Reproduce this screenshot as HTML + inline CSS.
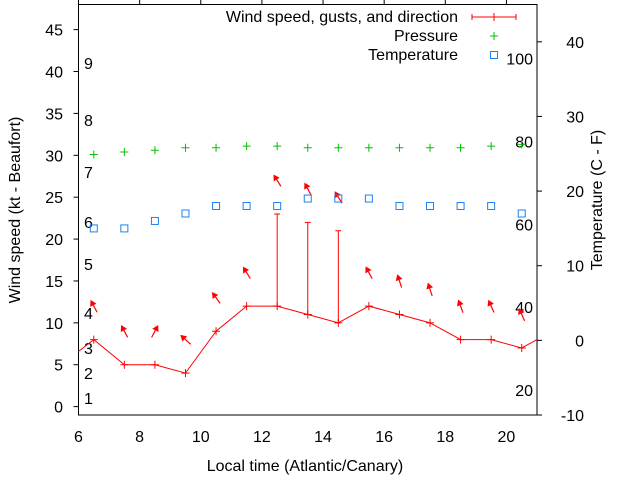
<!DOCTYPE html>
<html><head><meta charset="utf-8"><style>
html,body{margin:0;padding:0;background:#fff}
svg{display:block;font-family:"Liberation Sans",sans-serif}
</style></head><body>
<svg id="chart" width="640" height="480" viewBox="0 0 640 480" xmlns="http://www.w3.org/2000/svg"></svg>
<script>
const hours=[6.5,7.5,8.5,9.5,10.5,11.5,12.5,13.5,14.5,15.5,16.5,17.5,18.5,19.5,20.5];
const windKt=[8,5,5,4,9,12,12,11,10,12,11,10,8,8,7];
const windEdgeBefore=[5.5,5.2];
const windEdgeAfter=[21.5,9];
const gustKt=[null,null,null,null,null,null,23,22,21,null,null,null,null,null,null];
const windDirDeg=[332,332,28,312,324,328,328,332,328,332,342,342,340,336,336];
const pressure=[30.1,30.4,30.6,30.9,30.9,31.1,31.1,30.9,30.9,30.9,30.9,30.9,30.9,31.1,31.3];
const tempC=[15,15,16,17,18,18,18,19,19,19,18,18,18,18,17];
const xTicks=[6,8,10,12,14,16,18,20,22];
const yTicks=[0,5,10,15,20,25,30,35,40,45];
const y2Ticks=[-10,0,10,20,30,40];
const fahrenheitLabels=[20,40,60,80,100];
const beaufortLabels=[["1",398],["2",373],["3",348],["4",313],["5",264],["6",222],["7",172],["8",120],["9",63]];

const L=78.5,R=537,T=4.5,B=415;
const FS=16;
const X=h=>L+(h-6)/(21-6)*(R-L);
const Y=k=>B-(k+1)/(48+1)*(B-T);
const Y2=c=>B-(c+10)/(45+10)*(B-T);
const svg=document.getElementById('chart');
const NS='http://www.w3.org/2000/svg';
function mk(tag,attrs,parent){const e=document.createElementNS(NS,tag);for(const k in attrs)e.setAttribute(k,attrs[k]);(parent||svg).appendChild(e);return e;}
function txt(s,x,y,anchor,parent){const e=mk('text',{x:x,y:y,'font-size':FS,fill:'#000','text-anchor':anchor||'middle'},parent);e.textContent=s;return e;}

const defs=mk('defs',{});
const cp=mk('clipPath',{id:'plotclip'},defs);
mk('rect',{x:L,y:T,width:R-L,height:B-T},cp);

const frame=mk('path',{d:`M${L},${T}V${B}H${R}V${T}H${L}`,fill:'none',stroke:'#000','stroke-width':1});


xTicks.forEach(t=>{const x=X(t);if(x>R+1)return;
 const g=mk('g',{});
 mk('line',{x1:x,y1:0,x2:x,y2:T,stroke:'#000'},g);
 txt(String(t),x,442,'middle',g);});
yTicks.forEach(t=>{const y=Y(t);
 const g=mk('g',{});
 mk('line',{x1:L-5,y1:y,x2:L,y2:y,stroke:'#000'},g);
 txt(String(t),63,y+6,'end',g);});
y2Ticks.forEach(t=>{const y=Y2(t);
 const g=mk('g',{});
 mk('line',{x1:R,y1:y,x2:R+5,y2:y,stroke:'#000'},g);
 txt(String(t),584,y+6,'end',g);});
fahrenheitLabels.forEach(f=>{const c=(f-32)*5/9;const e=txt(String(f),533,Y2(c)+6,'end');
 });
beaufortLabels.forEach(b=>{const e=txt(b[0],84,b[1]+6,'start');
 });

let e=txt('Local time (Atlantic/Canary)',305,471);
e=txt('Wind speed (kt - Beaufort)',0,0);e.setAttribute('transform','translate(20,210) rotate(-90)');

e=txt('Temperature (C - F)',0,0);e.setAttribute('transform','translate(602,200) rotate(-90)');


const plot=mk('g',{'clip-path':'url(#plotclip)'});


const pts=[[windEdgeBefore[0],windEdgeBefore[1]]].concat(hours.map((h,i)=>[h,windKt[i]])).concat([[windEdgeAfter[0],windEdgeAfter[1]]]);
const wl=mk('polyline',{points:pts.map(p=>X(p[0])+','+Y(p[1])).join(' '),fill:'none',stroke:'#f00','stroke-width':1},plot);

hours.forEach((h,i)=>{const x=X(h),y=Y(windKt[i]);
 const p=mk('path',{d:`M${x-4},${y}H${x+4}M${x},${y-4}V${y+4}`,stroke:'#f00'},plot);
 
 if(gustKt[i]!=null){const gy=Y(gustKt[i]);
  const g=mk('path',{d:`M${x},${y}V${gy}M${x-3},${gy}H${x+3}`,stroke:'#f00',fill:'none'},plot);
  }
 const top=Math.max(windKt[i],gustKt[i]==null?0:gustKt[i])+4;
 const cx=x,cy=Y(top);const a=windDirDeg[i]*Math.PI/180;const len=14;
 const dx=Math.sin(a)*len/2,dy=-Math.cos(a)*len/2;
 const hx=cx+dx,hy=cy+dy,tx=cx-dx,ty=cy-dy;
 const ux=dx/(len/2),uy=dy/(len/2);
 const bx=hx-ux*6,by=hy-uy*6;
 const ar=mk('g',{},plot);
 mk('line',{x1:tx,y1:ty,x2:bx,y2:by,stroke:'#f00','stroke-width':1.2},ar);
 mk('polygon',{points:`${hx},${hy} ${bx-uy*3.5},${by+ux*3.5} ${bx+uy*3.5},${by-ux*3.5}`,fill:'#f00'},ar);
});
hours.forEach((h,i)=>{const x=X(h),y=Y(pressure[i]);
 const p=mk('path',{d:`M${x-4},${y}H${x+4}M${x},${y-4}V${y+4}`,stroke:'#00c000'},plot);
 });
hours.forEach((h,i)=>{const x=X(h),y=Y2(tempC[i]);
 const r=mk('rect',{x:x-3.5,y:y-3.5,width:7,height:7,fill:'none',stroke:'#1e80f0','stroke-width':1},plot);
 });

const lg=mk('g',{});
let le=mk('g',{},lg);
txt('Wind speed, gusts, and direction',458,22,'end',le);
mk('path',{d:'M472,17H516M472,14V20M516,14V20M494,13V21',stroke:'#f00',fill:'none'},le);
le=mk('g',{},lg);
txt('Pressure',458,41,'end',le);
mk('path',{d:'M490,36H498M494,32V40',stroke:'#00c000'},le);
le=mk('g',{},lg);
txt('Temperature',458,60,'end',le);
mk('rect',{x:490.5,y:51.5,width:7,height:7,fill:'none',stroke:'#1e80f0'},le);
</script>
</body></html>
